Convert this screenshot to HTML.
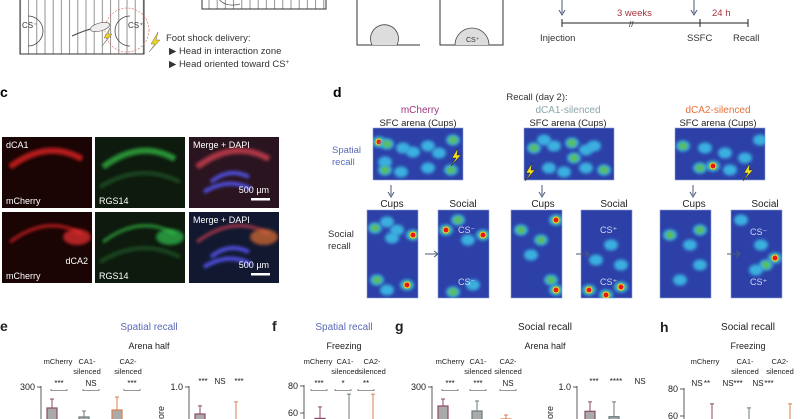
<!DOCTYPE html>
<html><head><meta charset="utf-8"><style>
html,body{margin:0;padding:0;background:#fff;overflow:hidden}
svg{display:block;font-family:"Liberation Sans",sans-serif}
</style></head><body>
<svg id="fig" width="800" height="419" viewBox="0 0 800 419" xmlns="http://www.w3.org/2000/svg">
<defs>
<filter id="bl" x="-50%" y="-50%" width="200%" height="200%"><feGaussianBlur stdDeviation="1.6"/></filter>
<pattern id="stripes" width="8.2" height="10" patternUnits="userSpaceOnUse"><line x1="4" y1="0" x2="4" y2="10" stroke="#777" stroke-width="0.8"/></pattern>
</defs>

<g>
<rect x="20" y="-2" width="124" height="56" fill="url(#stripes)" stroke="#333" stroke-width="1"/>
<path d="M28 16 A14 14 0 1 1 28 46 A11 11 0 1 0 28 16Z" fill="#ccc" stroke="#444" stroke-width="0.8"/>
<text x="22" y="28" font-size="8" fill="#333">CS⁻</text>
<circle cx="127" cy="30" r="22" fill="none" stroke="#e06060" stroke-width="0.6" stroke-dasharray="2 1.5"/>
<path d="M130 16 A14 14 0 1 0 130 46 A11 11 0 1 1 130 16Z" fill="#ccc" stroke="#444" stroke-width="0.8"/>
<text x="128" y="28" font-size="8" fill="#333">CS⁺</text>
<path d="M72 36 Q85 30 95 28 L105 24 L110 25" fill="none" stroke="#444" stroke-width="1"/>
<ellipse cx="100" cy="27" rx="10" ry="4" fill="#eee" stroke="#555" stroke-width="0.6" transform="rotate(-15 100 27)"/>
<path d="M110 28 L104 38 L108 38 L102 46 L112 34 L108 34 Z" fill="#f0d020" stroke="#555" stroke-width="0.4"/>
</g>
<g>
<path d="M158 32 L151 44 L155 44 L149 52 L160 40 L156 40 Z" fill="#f0d020" stroke="#555" stroke-width="0.4"/>
<text x="166" y="41" font-size="9.5" fill="#333">Foot shock delivery:</text>
<text x="169" y="54" font-size="9.5" fill="#333">▶ Head in interaction zone</text>
<text x="169" y="67" font-size="9.5" fill="#333">▶ Head oriented toward CS<tspan font-size="6" dy="-3">+</tspan></text>
</g>
<g>
<rect x="202" y="-2" width="124" height="11" fill="url(#stripes)" stroke="#333" stroke-width="1"/>
<path d="M218 -2 Q225 8 240 4" fill="none" stroke="#555" stroke-width="0.8"/>
</g>
<g>
<path d="M357 -2 V45 H420" fill="none" stroke="#333" stroke-width="1"/>
<path d="M372 45 A14 14 0 1 1 397 45" fill="#ddd" stroke="#444" stroke-width="0.8"/>
<rect x="440" y="-2" width="63" height="47" fill="none" stroke="#333" stroke-width="1"/>
<path d="M455 45 A17 17 0 1 1 489 45" fill="#ddd" stroke="#444" stroke-width="0.8"/>
<text x="466" y="42" font-size="7" fill="#333">CS⁺</text>
</g>
<g>
<line x1="562" y1="23" x2="748" y2="23" stroke="#222" stroke-width="1"/>
<line x1="562" y1="19" x2="562" y2="27" stroke="#222"/><line x1="700" y1="19" x2="700" y2="27" stroke="#222"/><line x1="748" y1="19" x2="748" y2="27" stroke="#222"/>
<text x="629" y="27" font-size="8" fill="#222">//</text>
<path d="M562 0 V13 M559 10 L562 15 L565 10" fill="none" stroke="#4a5a78" stroke-width="1"/>
<path d="M694 0 V13 M691 10 L694 15 L697 10" fill="none" stroke="#4a5a78" stroke-width="1"/>
<text x="617" y="16" font-size="9.5" fill="#a8343a">3 weeks</text>
<text x="712" y="16" font-size="9.5" fill="#a8343a">24 h</text>
<text x="540" y="41" font-size="9.5" fill="#333">Injection</text>
<text x="687" y="41" font-size="9.5" fill="#333">SSFC</text>
<text x="733" y="41" font-size="9.5" fill="#333">Recall</text>
</g>

<text x="0" y="97" font-size="14" font-weight="bold">c</text>
<text x="333" y="97" font-size="14" font-weight="bold">d</text>

<g id="micro"></g>

<g>
<text x="537" y="100" font-size="9.5" fill="#333" text-anchor="middle">Recall (day 2):</text>
<text x="420" y="113" font-size="10" fill="#9b3a7a" text-anchor="middle">mCherry</text>
<text x="568" y="113" font-size="10" fill="#8aa6ad" text-anchor="middle">dCA1-silenced</text>
<text x="718" y="113" font-size="10" fill="#e8703a" text-anchor="middle">dCA2-silenced</text>
<text x="418" y="126" font-size="9.5" fill="#222" text-anchor="middle">SFC arena (Cups)</text>
<text x="568" y="126" font-size="9.5" fill="#222" text-anchor="middle">SFC arena (Cups)</text>
<text x="718" y="126" font-size="9.5" fill="#222" text-anchor="middle">SFC arena (Cups)</text>
<text x="332" y="153" font-size="9.5" fill="#5a6ab8">Spatial</text>
<text x="332" y="165" font-size="9.5" fill="#5a6ab8">recall</text>
<text x="328" y="237" font-size="9.5" fill="#333">Social</text>
<text x="328" y="249" font-size="9.5" fill="#333">recall</text>
</g>
<g id="heat"></g>

<g id="charts"></g>
</svg>
<script>
const NS='http://www.w3.org/2000/svg';
function mk(tag,attrs,parent,txt){const e=document.createElementNS(NS,tag);for(const k in attrs)e.setAttribute(k,attrs[k]);if(txt!==undefined)e.textContent=txt;parent.appendChild(e);return e;}

// ---- microscopy
const micro=document.getElementById('micro');
const mcols=[2,95,189], mrows=[137,212], mw=90, mh=71;
const mLabelsTop=['mCherry','RGS14','Merge + DAPI'];
mrows.forEach((y,ri)=>{mcols.forEach((x,ci)=>{
  const g=mk('g',{},micro);
  
  
  const bg=ci===0?'#1a0404':ci===1?'#0d1a0d':(ri===0?'#2a1420':'#121830');
  mk('rect',{x:x,y:y,width:mw,height:mh,fill:bg},g);
  const col=ci===0?'#e02020':ci===1?'#30b040':'#d04050';
  mk('path',{d:`M${x+8} ${y+30} Q${x+45} ${y+2} ${x+80} ${y+22}`,fill:'none',stroke:col,'stroke-width':ri===0?6:3,opacity:.8,filter:'url(#bl)'},g);
  if(ri===1) mk('ellipse',{cx:x+75,cy:y+25,rx:14,ry:8,fill:ci===0?'#f03030':ci===1?'#30c050':'#e07030',opacity:.7,filter:'url(#bl)'},g);
  if(ci===1) mk('path',{d:`M${x+5} ${y+50} Q${x+45} ${y+25} ${x+85} ${y+45}`,fill:'none',stroke:'#1f4a22','stroke-width':4,filter:'url(#bl)'},g);
  if(ci===2){mk('path',{d:`M${x+22} ${y+45} Q${x+40} ${y+30} ${x+60} ${y+40} M${x+15} ${y+55} Q${x+40} ${y+40} ${x+62} ${y+52}`,fill:'none',stroke:'#5050e0','stroke-width':4,filter:'url(#bl)'},g);
    mk('text',{x:x+80,y:y+56,'font-size':9,fill:'#fff','text-anchor':'end'},g,'500 µm');
    mk('rect',{x:x+62,y:y+61,width:19,height:2.5,fill:'#fff'},g);
    mk('text',{x:x+4,y:y+11,'font-size':9,fill:'#fff'},g,'Merge + DAPI');}
  else mk('text',{x:x+4,y:y+67,'font-size':9,fill:'#fff'},g,mLabelsTop[ci]);
  if(ci===0&&ri===0) mk('text',{x:x+4,y:y+11,'font-size':9,fill:'#fff'},g,'dCA1');
  if(ci===0&&ri===1) mk('text',{x:x+86,y:y+52,'font-size':9,fill:'#fff','text-anchor':'end'},g,'dCA2');
});});

// ---- heatmaps
const heat=document.getElementById('heat');
const topMaps=[{x:373,blobs:[[6,14,'r'],[14,16,'g'],[12,34,'c'],[30,20,'c'],[40,24,'c'],[55,18,'c'],[66,25,'c'],[80,12,'g'],[78,42,'g'],[12,42,'g'],[28,44,'c'],[55,40,'c']]},
 {x:524,blobs:[[10,20,'g'],[20,12,'c'],[30,18,'c'],[48,15,'g'],[50,30,'g'],[62,22,'c'],[70,18,'c'],[80,42,'g'],[25,40,'c'],[40,44,'c'],[62,40,'c']]},
 {x:675,blobs:[[8,18,'g'],[38,38,'r'],[25,40,'g'],[55,42,'c'],[70,30,'c'],[85,12,'c'],[30,20,'c'],[50,25,'c']]}];
const bottomMaps=[{x:367,blobs:[[8,18,'g'],[20,12,'c'],[30,20,'c'],[46,25,'r'],[10,70,'g'],[40,75,'r'],[25,28,'c'],[20,80,'c']]},
 {x:438,blobs:[[8,20,'r'],[20,10,'g'],[45,25,'r'],[35,75,'c'],[15,82,'g'],[30,30,'c']]},
 {x:511,blobs:[[10,20,'g'],[30,30,'g'],[45,10,'r'],[40,70,'g'],[45,80,'r'],[20,45,'c']]},
 {x:581,blobs:[[8,80,'r'],[40,77,'r'],[25,85,'r'],[15,50,'c'],[40,55,'c'],[30,35,'c']]},
 {x:660,blobs:[[10,25,'g'],[30,35,'c'],[40,20,'g'],[20,70,'c'],[40,55,'c']]},
 {x:731,blobs:[[44,48,'r'],[35,55,'g'],[10,10,'c'],[30,35,'c'],[25,60,'c']]}];
function drawMap(x,y,w,h,blobs,idx){
  const g=mk('g',{},heat);
  
  
  mk('rect',{x:x,y:y,width:w,height:h,fill:'#2c40a8',stroke:'#8ea0d8','stroke-width':.6},g);
  const cl=mk('clipPath',{id:'cp'+idx},g);mk('rect',{x:x,y:y,width:w,height:h},cl);
  const inner=mk('g',{'clip-path':'url(#cp'+idx+')'},g);
  blobs.forEach(b=>{
    mk('ellipse',{cx:x+b[0],cy:y+b[1],rx:7,ry:5.5,fill:'#3ab0e0',filter:'url(#bl)'},inner);
    if(b[2]!=='c') mk('ellipse',{cx:x+b[0],cy:y+b[1],rx:4,ry:3.5,fill:'#60c050',filter:'url(#bl)'},inner);
    if(b[2]==='r'){mk('ellipse',{cx:x+b[0],cy:y+b[1],rx:3.5,ry:3.5,fill:'#f0e020'},inner);mk('ellipse',{cx:x+b[0],cy:y+b[1],rx:2.5,ry:2.5,fill:'#e81818'},inner);}
  });
  return g;
}
topMaps.forEach((m,i)=>drawMap(m.x,128,90,52,m.blobs,'top'+i));
bottomMaps.forEach((m,i)=>drawMap(m.x,210,51,88,m.blobs,'bot'+i));
[[458,148],[532,163],[750,163]].forEach(p=>{const e=mk('path',{d:`M${p[0]} ${p[1]} l-6 10 h4 l-5 8 l10 -11 h-4 z`,fill:'#f0e020',stroke:'#222','stroke-width':.5},heat);});
[373,524,675].forEach(x=>{
  mk('path',{d:`M${x+18} 185 V195 M${x+15} 192 L${x+18} 197 L${x+21} 192`,fill:'none',stroke:'#4a5a78','stroke-width':1},heat);
  mk('text',{x:x+19,y:207,'font-size':10,'text-anchor':'middle',fill:'#222'},heat,'Cups');
  mk('text',{x:x+90,y:207,'font-size':10,'text-anchor':'middle',fill:'#222'},heat,'Social');
  const ax=x+52;
  mk('path',{d:`M${ax} 254 H${ax+12} M${ax+9} 251 L${ax+13} 254 L${ax+9} 257`,fill:'none',stroke:'#4a5a78','stroke-width':1},heat);
});
[['CS⁻',458,233],['CS⁻',458,285],['CS⁺',600,233],['CS⁺',600,285],['CS⁻',750,235],['CS⁺',750,285]].forEach(t=>mk('text',{x:t[1],y:t[2],'font-size':9,fill:'#cfd6f0'},heat,t[0]));

// ---- bottom charts (data arrays)
const eArenaVals=[258,240,254];
const eArenaErr=[276,252,280];
const eScoreVals=[0.8,0.7];
const eScoreErr=[0.86,0.89];
const fFreezeVals=[56,50,55];
const fFreezeErr=[64.5,74,74];
const gArenaVals=[262,252,236];
const gArenaErr=[276,272,244];
const gScoreVals=[0.82,0.78];
const gScoreErr=[0.89,0.89];
const hFreezeVals=[55,55,55];
const hFreezeErr=[69,66,69];
const eSig=['***','NS','***'], eScoreSig=['***','NS','***'], fSig=['***','*','**'], gSig=['***','***','NS'], gScoreSig=['***','****','NS'], hSig=['NS','**','NS','***','NS','***'];

const charts=document.getElementById('charts');
function txt(x,y,s,opts){return mk('text',Object.assign({x:x,y:y,'font-size':8,fill:'#222'},opts||{}),charts,s);}
function axis(x,v1,y1,v2,y2,tickVals,labels,name){
  const g=mk('g',{},charts);
  
  
  const ys=v=>y1+(v-v1)*(y2-y1)/(v2-v1);
  mk('line',{x1:x,y1:ys(tickVals[0])-1,x2:x,y2:430,stroke:'#333','stroke-width':.8},g);
  tickVals.forEach((v,i)=>{mk('line',{x1:x-4,y1:ys(v),x2:x,y2:ys(v),stroke:'#333','stroke-width':.8},g);mk('text',{x:x-6,y:ys(v)+3,'font-size':9,'text-anchor':'end',fill:'#222'},g,labels[i]);});
  return ys;
}
function boxes(ys,xs,vals,errs,colors,name){
  vals.forEach((v,i)=>{
    const b=mk('rect',{x:xs[i]-5,y:ys(v),width:10,height:Math.max(0,430-ys(v)),fill:'#aaa',stroke:colors[i],'stroke-width':1.2},charts);
    
    
    const w=mk('path',{d:`M${xs[i]} ${ys(errs[i])} V${ys(v)} M${xs[i]-2} ${ys(errs[i])} H${xs[i]+2}`,stroke:colors[i],'stroke-width':1,fill:'none'},charts);
    
    
  });
}
function sig(xs,y,labels,br){labels.forEach((s,i)=>{txt(xs[i],y,s,{'text-anchor':'middle','font-size':8});if(br!==false)mk('path',{d:`M${xs[i]-8} ${y+3} v1.5 H${xs[i]+8} v-1.5`,fill:'none',stroke:'#333','stroke-width':.6},charts);});}
function groupLabels(xs,y){txt(xs[0],y,'mCherry',{'text-anchor':'middle','font-size':7.5});txt(xs[1],y,'CA1-',{'text-anchor':'middle','font-size':7.5});txt(xs[2],y,'CA2-',{'text-anchor':'middle','font-size':7.5});txt(xs[1],y+10,'silenced',{'text-anchor':'middle','font-size':7.5});txt(xs[2],y+10,'silenced',{'text-anchor':'middle','font-size':7.5});}
const purple='#8a4a6a', grey='#6a7a80', orange='#d88050';
const cols=[purple,grey,orange];

// panel e
txt(0,331,'e',{'font-size':14,'font-weight':'bold'});
txt(149,330,'Spatial recall',{'text-anchor':'middle','font-size':10,fill:'#5a6ab8'});
txt(149,349,'Arena half',{'text-anchor':'middle','font-size':9});
groupLabels([58,87,128],364);
sig([59,91,132],386,eSig);
let ys=axis(41,300,387,250,412,[300],['300'],'e-arena-y-axis'); boxes(ys,[52,84,117],eArenaVals,eArenaErr,cols,'e-arena');
ys=axis(189,1,387,0.8,414,[1],['1.0'],'e-score-y-axis');
txt(0,0,'score',{'font-size':9,transform:'translate(164,428) rotate(-90)'});
sig([203,220,239],384,eScoreSig,false);
boxes(ys,[200,236],eScoreVals,eScoreErr,[purple,orange],'e-score');
// panel f
txt(272,331,'f',{'font-size':14,'font-weight':'bold'});
txt(344,330,'Spatial recall',{'text-anchor':'middle','font-size':10,fill:'#5a6ab8'});
txt(344,349,'Freezing',{'text-anchor':'middle','font-size':9});
groupLabels([318,345,372],364);
sig([319,343,366],386,fSig);
ys=axis(304,80,386,60,413,[80,60],['80','60'],'f-freezing-y-axis'); boxes(ys,[320,349,373],fFreezeVals,fFreezeErr,cols,'f-freezing');
// panel g
txt(395,331,'g',{'font-size':14,'font-weight':'bold'});
txt(545,330,'Social recall',{'text-anchor':'middle','font-size':10});
txt(545,349,'Arena half',{'text-anchor':'middle','font-size':9});
groupLabels([450,478,508],364);
sig([450,478,508],386,gSig);
ys=axis(432,300,387,250,412,[300],['300'],'g-arena-y-axis'); boxes(ys,[443,477,506],gArenaVals,gArenaErr,cols,'g-arena');
ys=axis(577,1,387,0.8,414,[1],['1.0'],'g-score-y-axis');
txt(0,0,'score',{'font-size':9,transform:'translate(553,428) rotate(-90)'});
sig([594,616,640],384,gScoreSig,false);
boxes(ys,[590,614],gScoreVals,gScoreErr,[purple,grey],'g-score');
// panel h
txt(660,332,'h',{'font-size':14,'font-weight':'bold'});
txt(748,330,'Social recall',{'text-anchor':'middle','font-size':10});
txt(748,349,'Freezing',{'text-anchor':'middle','font-size':9});
groupLabels([705,745,780],364);
const hx=[697,707,728,738,758,769];
hSig.forEach((s,i)=>txt(hx[i],386,s,{'text-anchor':'middle','font-size':8}));
ys=axis(684,80,389,60,416,[80,60],['80','60'],'h-freezing-y-axis'); boxes(ys,[712,749,790],hFreezeVals,hFreezeErr,cols,'h-freezing');
</script>
</body></html>
